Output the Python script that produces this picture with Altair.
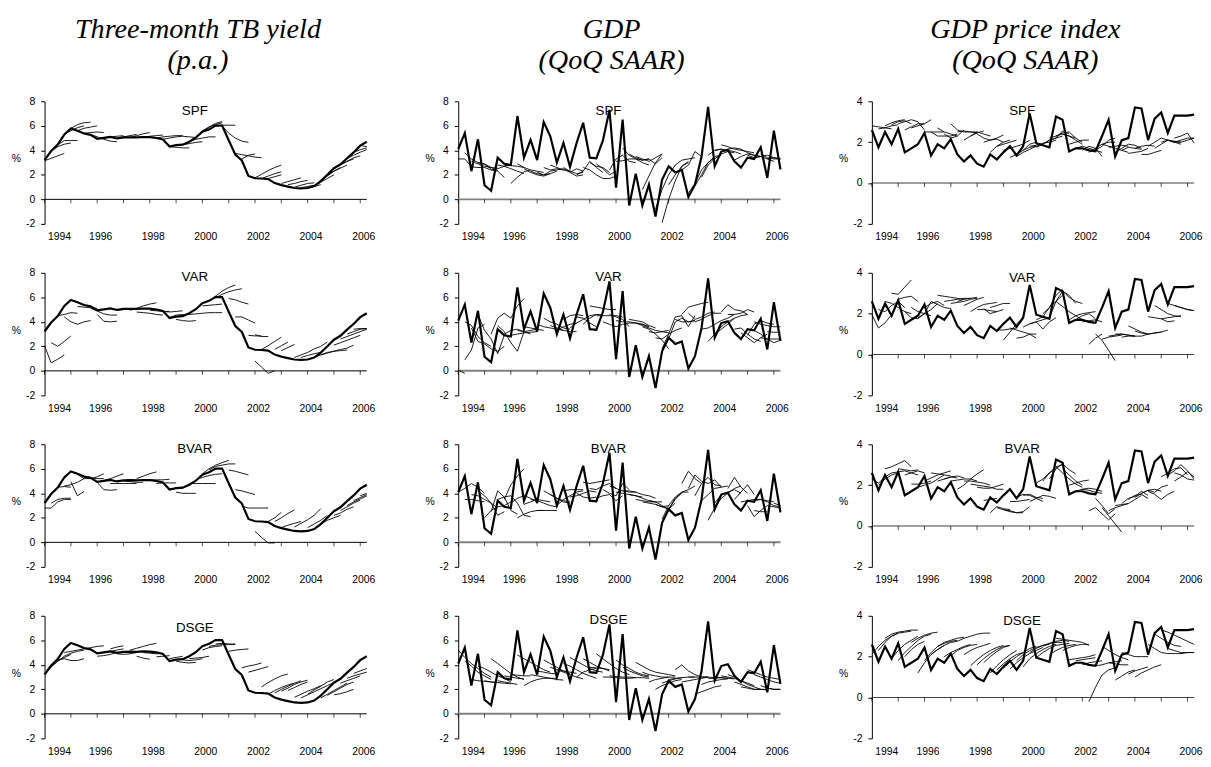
import altair as alt
import pandas as pd

QUARTERS = [1994 + i / 4 for i in range(50)]
YEARS = list(range(1994, 2007))
LABEL_YEARS = list(range(1994, 2007, 2))

ACT_TB = [3.21, 3.94, 4.47, 5.29, 5.78, 5.60, 5.37, 5.26, 4.93, 5.02, 5.10, 4.97,
          5.06, 5.07, 5.06, 5.09, 5.08, 5.01, 4.88, 4.31, 4.42, 4.46, 4.70, 5.03,
          5.52, 5.71, 6.02, 6.02, 4.82, 3.66, 3.17, 1.91, 1.72, 1.70, 1.65, 1.33,
          1.16, 1.04, 0.93, 0.90, 0.93, 1.08, 1.49, 2.01, 2.54, 2.86, 3.36, 3.83,
          4.38, 4.70]
ACT_GDP = [4.1, 5.4, 2.3, 4.9, 1.15, 0.7, 3.4, 2.9, 2.8, 6.8, 3.4, 4.85,
           3.2, 6.3, 5.15, 3.0, 4.6, 2.65, 4.6, 6.25, 3.4, 3.35, 4.8, 7.3,
           0.95, 6.5, -0.5, 2.1, -0.5, 1.2, -1.4, 1.6, 2.7, 2.2, 2.4, 0.2,
           1.2, 3.5, 7.55, 2.7, 3.9, 4.05, 3.1, 2.6, 3.4, 3.3, 4.25, 1.75,
           5.6, 2.45]
ACT_PI = [2.6, 1.75, 2.5, 1.9, 2.65, 1.5, 1.7, 1.9, 2.45, 1.35,
          1.9, 1.7, 2.15, 1.4, 1.05, 1.35, 0.95, 0.8, 1.4, 1.15,
          1.5, 1.8, 1.35, 1.8, 3.4, 1.95, 1.85, 1.75, 3.25, 3.1,
          1.55, 1.7, 1.7, 1.6, 1.55, 2.3, 3.1, 1.3, 2.1, 2.2,
          3.7, 3.65, 2.1, 3.15, 3.45, 2.45, 3.3, 3.3, 3.3, 3.35]

# forecast paths: (start quarter index, values)
TB_SPF = [
    (0, [3.15, 3.35, 3.55, 3.75]), (1, [3.95, 4.3, 4.5, 4.6]), (2, [4.45, 4.8, 4.8, 4.8]),
    (3, [5.3, 5.6, 5.85, 6.0]), (4, [5.8, 6.1, 6.25, 6.3]), (5, [5.6, 5.8, 5.9, 6.0]),
    (6, [5.4, 5.45, 5.5, 5.45]), (7, [5.3, 5.1, 4.9, 4.75, 4.7]), (9, [5.0, 5.1, 5.15, 5.2]),
    (11, [5.0, 5.1, 5.2, 5.3]), (13, [5.05, 5.2, 5.35, 5.45]), (15, [5.05, 5.15, 5.2, 5.25]),
    (17, [5.0, 5.1, 5.15, 5.2, 5.2]), (18, [4.9, 5.0, 5.1, 5.15, 5.1, 5.05]),
    (19, [4.3, 4.25, 4.2, 4.2]), (21, [4.45, 4.55, 4.65, 4.7]), (22, [4.7, 4.9, 5.0, 5.1, 5.1]),
    (23, [5.1, 5.6, 5.9, 6.1, 6.25]), (24, [5.5, 5.9, 6.2, 6.35]), (25, [5.7, 6.0, 6.05, 6.05, 6.05]),
    (27, [6.0, 5.4, 5.0, 4.75, 4.65]), (29, [3.75, 3.65, 3.55, 3.45, 3.4]), (30, [3.3, 3.6, 3.7]),
    (32, [1.75, 2.05, 2.35, 2.6, 2.8]), (33, [1.7, 1.9, 2.1, 2.25]), (34, [1.7, 1.85, 2.0]),
    (36, [1.3, 1.45, 1.6, 1.75]), (37, [1.2, 1.3, 1.45, 1.55]), (38, [1.0, 1.15, 1.3, 1.35]),
    (39, [0.95, 1.05, 1.15]), (40, [0.95, 1.05, 1.2]), (41, [1.1, 1.4, 1.7, 2.0]),
    (42, [1.5, 1.9, 2.3, 2.6]), (43, [2.0, 2.3, 2.55, 2.8]), (44, [2.5, 2.8, 3.1, 3.3]),
    (45, [2.85, 3.1, 3.4, 3.55]), (46, [3.35, 3.6, 3.85, 4.05]), (47, [3.85, 4.05, 4.2]),
    (48, [4.4, 4.3]),
]
TB_VAR = [
    (0, [2.05, 0.65, 0.95, 1.3]), (1, [2.3, 2.0, 2.4, 2.85]), (2, [4.5, 4.6, 4.75, 4.7]),
    (3, [4.4, 4.0, 3.8, 4.0, 4.1]), (5, [5.25, 5.2, 5.15, 5.1]), (7, [5.1, 4.9, 4.65, 4.55, 4.55]),
    (8, [4.6, 4.05, 4.0, 4.05]), (11, [4.95, 5.0, 5.05, 5.1]), (13, [4.95, 5.1, 5.3, 5.45, 5.55]),
    (14, [4.8, 4.75, 4.7, 4.6, 4.55]), (16, [4.95, 4.9, 4.85, 4.85]), (18, [4.85, 4.8, 4.85, 4.9]),
    (19, [4.35, 4.55, 4.6, 4.6]), (20, [4.2, 4.1, 4.05, 4.1]),
    (22, [4.6, 4.65, 4.7, 4.75, 4.75, 4.75]), (24, [5.3, 5.35, 5.4, 5.45]),
    (25, [5.7, 6.1, 6.5, 6.8, 7.0]), (26, [5.95, 6.25, 6.45, 6.6, 6.7]),
    (28, [5.9, 5.8, 5.6, 5.45]), (29, [4.4, 4.4, 4.15, 3.9]), (31, [2.9, 2.85, 2.85]),
    (32, [0.8, 0.3, -0.2, 0.0]), (32, [2.95, 2.8, 2.8]), (33, [1.75, 2.05, 2.4, 2.75]),
    (35, [1.75, 2.05, 2.35]), (36, [1.65, 1.9, 2.15]), (38, [1.1, 1.3, 1.5, 1.8, 2.0, 2.35]),
    (39, [1.1, 1.25, 1.4, 1.5]), (40, [0.95, 1.1, 1.3, 1.5]),
    (42, [1.3, 1.45, 1.6, 1.75, 1.85, 2.1]), (43, [1.5, 1.6, 1.65, 1.7]),
    (44, [2.1, 2.3, 2.5, 2.7, 2.9]), (45, [2.6, 2.8, 3.0, 3.2, 3.4]),
    (46, [3.0, 3.2, 3.4, 3.45]), (47, [3.4, 3.45, 3.45]),
]
TB_BVAR = [
    (0, [2.8, 2.8, 3.3, 3.5, 3.5]), (1, [3.2, 3.5, 3.6, 3.6]), (2, [4.5, 4.55, 4.5]),
    (3, [4.6, 4.7, 4.9, 5.2]), (4, [4.95, 3.8, 4.15]), (5, [5.55, 5.2, 5.2, 5.35, 5.6]),
    (6, [5.3, 5.25, 5.2, 5.2]), (8, [4.9, 4.3, 4.25, 4.3]), (9, [5.05, 5.2, 5.4, 5.6]),
    (10, [4.8, 4.8, 4.8, 4.8, 4.8]), (12, [5.0, 4.95, 4.9, 4.9]), (14, [5.2, 5.4, 5.6, 5.75]),
    (16, [5.1, 5.1, 5.1, 5.15]), (17, [4.8, 4.85, 4.85, 4.85]), (19, [4.35, 4.4, 4.4]),
    (20, [4.1, 4.0, 4.0, 4.0]), (22, [4.8, 4.8, 4.8, 4.8, 4.8]),
    (23, [5.1, 5.3, 5.45, 5.55, 5.6]), (24, [5.6, 6.0, 6.3, 6.5, 6.7]),
    (25, [5.9, 6.2, 6.3, 6.4, 6.4]), (28, [5.9, 5.8, 5.65, 5.5]), (29, [4.3, 4.2, 4.05, 3.9]),
    (30, [2.95, 2.8, 2.8, 2.8, 2.8]), (32, [0.9, 0.4, -0.05, -0.05]), (34, [1.7, 2.0, 2.45]),
    (35, [1.7, 2.0, 2.35, 2.65]), (36, [1.2, 1.4, 1.55, 1.7]), (38, [1.25, 1.55, 1.85, 2.2, 2.75]),
    (40, [1.2, 1.5, 1.8, 2.2]), (42, [1.5, 1.8, 2.0, 2.2]), (44, [2.2, 2.4, 2.7, 2.9]),
    (45, [2.6, 2.9, 3.2, 3.45]), (46, [3.0, 3.3, 3.55, 3.8]), (47, [3.4, 3.65, 3.9]),
    (48, [3.8, 4.0]),
]
TB_DSGE = [
    (0, [3.3, 3.8, 4.3, 4.6, 4.85]), (1, [3.9, 4.3, 4.7, 4.95, 5.1, 5.2]),
    (2, [4.4, 4.5, 4.35, 4.35, 4.5]), (3, [5.0, 5.1, 5.2, 5.3, 5.4, 5.5, 5.55]),
    (8, [4.7, 4.75, 4.85, 5.0]), (9, [5.0, 5.1, 5.2, 5.3]), (10, [5.3, 5.45, 5.55]),
    (11, [4.9, 4.85, 4.9, 5.0]), (13, [5.2, 5.35, 5.5, 5.65, 5.75]), (14, [4.7, 4.55, 4.45]),
    (15, [5.0, 4.95, 4.9, 4.95]), (17, [4.65, 4.7, 4.75]), (19, [4.5, 4.6, 4.7]),
    (20, [4.3, 4.2, 4.15, 4.2]), (21, [4.4, 4.35, 4.4, 4.5]), (22, [4.5, 4.55, 4.6, 4.7]),
    (24, [5.2, 5.4, 5.5, 5.55]), (25, [5.5, 5.6, 5.65, 5.65, 5.65]), (26, [5.7, 5.75, 5.7, 5.7]),
    (28, [5.1, 5.2, 5.25, 5.3]), (30, [3.75, 3.9, 4.0, 4.15]), (31, [3.4, 3.55, 3.7, 3.85]),
    (33, [2.2, 2.55, 2.85, 3.1, 3.25]), (34, [1.6, 1.9, 2.15, 2.35, 2.5]),
    (35, [1.7, 2.0, 2.25, 2.5, 2.7]), (36, [1.85, 2.1, 2.4, 2.6, 2.75]),
    (37, [1.9, 2.15, 2.4, 2.6]), (38, [1.35, 1.6, 1.85, 2.05, 2.3]),
    (39, [1.3, 1.55, 1.8, 2.05, 2.3, 2.55]), (40, [1.6, 1.95, 2.25, 2.6, 2.8]),
    (42, [1.3, 1.6, 1.9, 2.2, 2.5]), (43, [1.5, 1.8, 2.1, 2.4, 2.6]),
    (44, [1.55, 1.65, 1.8, 2.0]), (45, [2.5, 2.7, 2.9, 3.1]), (46, [2.9, 3.1, 3.25, 3.4]),
    (47, [3.3, 3.5, 3.7]),
]
GDP_SPF = [
    (0, [3.3, 3.3, 2.65, 2.6, 2.6]), (1, [3.8, 3.3, 3.0, 2.85, 2.5]), (2, [3.1, 2.9, 2.7, 2.6, 2.55]),
    (3, [3.0, 2.9, 2.6, 2.35]), (4, [2.6, 2.4, 2.3, 1.8]), (5, [2.4, 2.5, 2.7, 2.8]),
    (6, [2.8, 2.7, 2.5, 2.3, 2.1]), (7, [2.8, 2.75, 2.7, 2.6]), (8, [1.3, 1.8, 2.25, 2.4]),
    (9, [2.9, 2.6, 2.4, 2.3, 2.2]), (10, [2.5, 2.2, 2.0, 1.9, 2.1]), (11, [2.3, 2.1, 2.0, 2.3, 2.4]),
    (12, [2.2, 2.0, 2.1, 2.3]), (13, [2.6, 2.4, 2.5, 2.4]), (14, [2.8, 2.6, 2.4, 2.3]),
    (15, [2.4, 2.5, 2.2, 1.9, 2.0]), (16, [2.6, 2.3, 2.1, 2.2]), (17, [2.2, 2.5, 2.3]),
    (18, [2.0, 2.3, 3.1, 2.6, 2.2]), (19, [2.6, 2.4, 2.0, 1.7, 1.7, 1.9]), (20, [3.0, 2.7, 2.6, 2.2]),
    (21, [2.9, 2.5, 2.0, 2.3]), (23, [2.4, 3.3, 3.6, 3.1, 3.0]), (24, [3.1, 3.15, 3.3, 3.3, 3.2, 3.3]),
    (25, [4.2, 3.6, 3.3, 3.0, 2.8]), (26, [3.7, 3.4, 3.2, 3.3, 2.9, 3.4]), (27, [3.5, 3.3, 3.1, 3.4, 3.7]),
    (28, [0.8, 1.9, 3.0, 3.7]), (30, [-0.8, 0.8, 2.0, 2.8]), (31, [-1.9, 0.0, 1.5, 2.7, 3.1]),
    (32, [1.2, 2.0, 2.7, 3.0]), (33, [2.8, 3.2, 3.3, 3.4]), (34, [2.4, 2.8, 3.9, 3.5]),
    (35, [0.5, 1.3, 2.4, 3.0, 3.4]), (36, [1.1, 2.0, 3.0, 3.5, 3.6]), (37, [1.8, 2.8, 3.3, 3.7, 3.9]),
    (38, [3.6, 4.0, 4.1, 3.9, 3.8]), (39, [4.0, 4.1, 4.0, 3.9, 3.7]),
    (40, [4.45, 4.3, 4.1, 4.0, 3.9, 3.8]), (41, [4.1, 4.2, 4.1, 3.8, 3.6, 3.5]),
    (42, [3.2, 3.5, 3.7, 3.6, 3.5]), (44, [3.6, 3.4, 3.5, 3.3, 3.1]), (45, [3.4, 3.5, 3.6, 3.4, 3.3]),
    (46, [3.7, 3.4, 3.3, 3.3]), (47, [3.3, 3.4, 3.3]),
]
GDP_VAR = [
    (0, [0.05, -0.2]), (1, [0.9, 1.7, 3.5, 3.8]), (1, [4.0, 3.7, 2.8, 2.3, 2.0]),
    (2, [3.5, 2.4, 2.2, 1.8, 1.6, 2.0]), (3, [4.6, 3.3, 2.6, 1.4, 2.9]),
    (5, [3.0, 4.3, 4.7, 4.3, 5.3, 5.9]), (6, [3.7, 3.2, 2.3, 1.6, 3.2]), (7, [3.0, 3.3, 3.4, 3.2, 3.0]),
    (8, [2.9, 3.0, 3.1, 3.15, 3.2]), (9, [3.3, 3.2, 3.3, 3.4]), (10, [3.6, 3.5, 3.4, 3.3]),
    (12, [3.8, 3.6, 3.5, 3.4, 3.3]), (13, [4.3, 4.0, 3.8, 3.5, 3.4]), (14, [3.7, 3.5, 3.3, 3.2, 3.2]),
    (15, [3.3, 3.6, 3.8, 3.9]), (16, [4.2, 4.5, 4.6, 4.5]), (17, [3.5, 3.9, 4.2, 4.5, 4.6]),
    (18, [4.4, 4.3, 3.9, 3.6]), (19, [3.8, 4.3, 4.6, 4.6]), (20, [5.3, 5.2, 5.1, 5.0, 5.0]),
    (21, [4.5, 4.5, 4.5, 4.5, 4.4]), (22, [4.0, 3.8, 3.6, 3.8]), (23, [4.6, 4.4, 4.2, 3.6]),
    (24, [4.1, 4.0, 4.0, 3.9, 3.8, 3.6]), (25, [3.8, 3.9, 3.9, 3.8, 3.6]),
    (26, [4.2, 4.1, 4.0, 3.7, 3.5]), (27, [3.9, 3.7, 3.5, 3.3, 3.2, 3.1]),
    (28, [3.6, 3.4, 3.0, 2.5, 1.8]), (29, [3.2, 3.1, 3.2, 3.3]), (30, [2.7, 2.6, 3.0, 3.3, 3.5]),
    (31, [1.8, 3.0, 4.4, 4.5, 3.6, 4.5]), (32, [2.6, 4.0, 4.3, 4.0, 4.1]), (33, [4.2, 4.0, 4.0, 4.1]),
    (34, [4.6, 5.2, 5.35, 5.5, 5.6]), (35, [4.7, 4.2, 4.4, 4.7, 4.8]), (36, [4.0, 4.2, 4.5, 4.7, 4.7]),
    (37, [3.4, 3.5, 3.8, 4.1, 4.3, 4.6]), (38, [2.4, 3.0, 3.6, 4.0, 4.3]),
    (39, [3.0, 3.4, 3.8, 4.3, 4.5, 4.6]), (40, [4.8, 5.4, 5.0, 4.9, 4.6]),
    (41, [4.6, 4.6, 4.7, 5.0, 4.8]), (42, [3.4, 3.5, 3.0, 2.6, 2.4]), (43, [3.1, 2.7, 2.3, 2.7, 3.0]),
    (44, [2.9, 3.8, 4.1, 3.9, 3.8]), (45, [4.0, 3.8, 3.7, 3.6, 3.6]), (45, [3.3, 3.0, 2.6, 2.3, 2.5]),
    (46, [2.7, 2.6, 2.6, 2.6]), (47, [3.2, 3.15, 3.15]),
]
GDP_BVAR = [
    (0, [4.1, 4.4, 4.8, 4.5, 4.0]), (1, [3.5, 3.5, 3.4, 3.3]), (2, [3.9, 3.8, 3.5, 3.2, 2.8]),
    (3, [4.2, 3.8, 3.2, 2.2, 2.5]), (4, [2.0, 2.6, 2.9, 3.0, 3.3]), (5, [2.5, 4.2, 3.7, 2.6, 2.3]),
    (6, [3.5, 3.7, 3.8, 3.2, 2.2, 2.1]), (7, [3.5, 4.7, 5.4, 6.0]), (8, [3.2, 3.6, 3.8, 3.6, 3.3]),
    (9, [2.0, 2.3, 2.5, 2.6, 2.6]), (10, [3.1, 3.3, 3.5, 3.4, 3.3]), (11, [3.5, 3.4, 3.2, 3.0, 2.9]),
    (12, [2.6, 2.6, 2.6, 2.6]), (13, [4.2, 3.9, 3.6, 3.4, 3.3]), (14, [3.9, 3.6, 3.3, 3.2]),
    (15, [3.0, 3.5, 3.8, 4.1, 4.2]), (16, [4.2, 4.3, 4.3, 4.3]), (17, [3.7, 3.8, 4.0, 4.2, 4.1]),
    (18, [4.0, 3.7, 3.6, 3.7]), (19, [4.9, 4.8, 4.9, 5.0, 5.1]), (20, [4.4, 4.3, 4.6, 4.8, 4.4]),
    (21, [3.6, 3.8, 3.9, 3.4, 3.8]), (22, [4.3, 4.0, 3.8, 4.8, 4.3]), (23, [4.6, 4.4, 4.2, 4.1, 4.1]),
    (24, [4.1, 4.0, 3.9, 3.8, 3.7]), (25, [4.2, 4.2, 4.1, 3.9, 3.8, 3.6]),
    (26, [3.9, 3.8, 3.6, 3.4, 3.3]), (27, [3.5, 3.4, 3.3, 3.3, 3.3]), (28, [3.3, 3.2, 3.1, 2.9, 3.0]),
    (29, [3.4, 3.3, 3.0, 2.7, 3.2]), (30, [3.1, 2.9, 2.7, 3.6, 4.0]), (31, [1.9, 3.0, 3.7, 4.1, 4.1]),
    (32, [2.7, 3.5, 4.1, 4.3, 4.6]), (34, [4.8, 5.8, 5.2, 4.8]), (35, [4.4, 5.5, 5.0, 4.8, 5.1, 4.5]),
    (36, [3.8, 4.8, 5.3, 4.7, 4.6]), (37, [3.4, 3.9, 4.4, 4.5, 4.6]),
    (38, [1.8, 2.8, 3.6, 4.0, 4.4, 4.6]), (39, [3.2, 3.9, 4.1, 4.3, 4.0]), (41, [4.4, 5.3, 4.5, 4.0]),
    (42, [3.5, 4.1, 4.7, 3.9]), (43, [3.3, 3.4, 3.5, 3.5, 3.4, 3.3]), (44, [3.0, 2.1, 2.6, 3.0]),
    (45, [2.6, 2.5, 2.5]), (45, [3.4, 3.5, 3.3, 3.0, 2.9]), (47, [3.0, 2.9, 2.8]), (48, [3.2, 3.0]),
]
GDP_DSGE = [
    (0, [5.2, 4.6, 4.1, 3.7, 3.3, 3.0]), (1, [4.3, 3.9, 3.4, 3.1, 2.8]), (2, [2.8, 2.7, 2.65, 2.6, 2.55]),
    (3, [3.9, 3.7, 3.4, 3.1, 2.9, 2.6]), (4, [2.7, 2.6, 2.55, 2.5, 2.45]),
    (5, [4.5, 4.1, 3.7, 3.3, 3.0, 2.8]), (6, [2.7, 2.6, 2.5, 2.4]), (7, [3.1, 3.0, 2.9, 2.85]),
    (8, [3.2, 3.15, 3.1, 3.1]), (9, [4.8, 4.5, 4.2, 3.9, 3.6, 3.4]), (10, [2.3, 2.6, 2.8, 2.9, 2.9, 2.9]),
    (11, [3.2, 3.1, 3.0, 2.9, 2.8, 2.75]), (12, [3.5, 3.4, 3.3, 3.25]), (13, [4.4, 4.1, 3.8, 3.5, 3.3]),
    (14, [3.8, 3.6, 3.4, 3.2, 3.0, 2.85]), (15, [3.6, 3.5, 3.4, 3.3]),
    (16, [4.1, 3.9, 3.6, 3.3, 3.1, 2.9]), (17, [4.6, 4.3, 4.0, 3.7, 3.5, 3.4]), (18, [3.0, 3.4, 3.6, 3.7]),
    (19, [4.5, 4.2, 3.9, 3.7, 3.5]), (20, [3.8, 3.75, 3.7, 3.6]), (21, [4.9, 4.5, 4.1, 3.7, 3.4, 3.2]),
    (22, [3.0, 3.0, 2.95, 2.9, 2.9]), (23, [3.1, 3.05, 3.0, 3.0, 2.95]),
    (24, [4.4, 4.0, 3.7, 3.4, 3.2, 3.1]), (25, [3.8, 3.5, 3.3, 3.1, 3.0]), (26, [2.9, 2.95, 2.95, 2.9]),
    (27, [4.2, 3.9, 3.6, 3.4, 3.3, 3.2, 3.1]), (28, [3.4, 3.2, 3.1, 3.0, 3.0]), (29, [2.6, 2.8, 2.9, 3.0, 3.0]),
    (30, [2.0, 2.3, 2.5, 2.7, 2.8]), (31, [2.5, 2.7, 2.85, 2.95]), (32, [2.8, 2.9, 2.95, 3.0, 3.0]),
    (33, [3.6, 4.0, 3.5, 3.2, 3.0, 3.0]), (34, [2.6, 2.7, 2.8, 2.9, 3.0]), (35, [3.0, 3.0, 3.0, 3.0, 2.95]),
    (36, [1.6, 1.8, 2.0, 2.2, 2.3]), (37, [2.4, 2.6, 2.7, 2.8, 2.85]), (38, [2.9, 2.9, 2.95, 2.9]),
    (39, [3.0, 2.95, 2.9, 2.85]), (40, [3.1, 3.0, 2.9, 2.7, 2.5, 2.3]), (41, [3.2, 3.0, 2.7, 2.4, 2.2, 2.0]),
    (42, [2.6, 2.4, 2.2, 2.0, 2.0, 2.0]), (43, [2.2, 2.1, 2.0, 2.0, 1.95]),
    (44, [3.6, 3.4, 3.2, 3.0, 2.9, 2.8]), (45, [3.2, 3.0, 2.8, 2.6, 2.5]), (46, [2.3, 2.1, 2.0, 2.0]),
    (47, [2.1, 2.0, 2.0]),
]
PI_SPF = [
    (0, [2.8, 2.75, 2.7, 2.65]), (1, [2.65, 2.7, 2.8, 2.85]), (2, [2.8, 2.95, 3.05, 3.1]),
    (3, [2.85, 3.0, 3.05, 2.9]), (4, [2.9, 3.0, 3.1, 3.0, 2.6]), (5, [2.6, 2.75, 2.9, 2.9]),
    (6, [2.7, 2.8, 2.9, 3.1]), (8, [2.5, 2.5, 2.5, 2.5]), (9, [2.5, 2.3, 2.3, 2.3, 2.4]),
    (10, [2.7, 2.5, 2.4, 2.3]), (11, [2.4, 2.2, 2.3, 2.6]), (12, [2.9, 2.6, 2.5, 2.5, 2.5]),
    (13, [2.5, 2.55, 2.5, 2.45]), (14, [2.1, 2.3, 2.45, 2.55]), (15, [2.3, 2.5, 2.4, 2.3]),
    (16, [2.4, 2.2, 2.1, 2.15, 2.0]), (17, [2.0, 2.1, 2.2, 2.35]), (18, [1.5, 1.8, 2.0, 2.1]),
    (19, [1.8, 1.9, 2.0, 2.1]), (20, [1.6, 1.7, 1.8, 1.9, 2.1]), (21, [1.25, 1.4, 1.6, 1.9, 2.0]),
    (22, [1.3, 1.5, 1.65, 1.8]), (23, [1.6, 1.75, 1.8, 1.9]), (24, [1.8, 1.85, 1.95, 2.0, 2.1]),
    (25, [1.75, 1.9, 2.1, 2.2, 2.3]), (26, [1.9, 2.1, 2.2, 2.55, 2.4]), (27, [2.2, 2.3, 2.45, 2.5, 2.2]),
    (28, [2.3, 2.4, 2.3, 2.2, 2.0]), (29, [2.4, 2.3, 2.1, 1.9]), (30, [1.9, 2.0, 2.1, 2.1]),
    (31, [1.7, 1.8, 1.7, 1.6, 1.5]), (32, [1.6, 1.8, 1.7, 1.3]), (33, [1.5, 1.7, 1.9, 2.0, 2.0]),
    (34, [1.6, 1.8, 2.1, 2.2]), (35, [1.9, 1.8, 1.7, 1.6, 1.5]), (36, [1.75, 1.8, 1.85, 1.8]),
    (37, [1.5, 1.7, 1.9, 1.85, 1.7]), (38, [1.6, 1.75, 1.7, 1.65]), (39, [1.45, 1.5, 1.55, 1.7]),
    (40, [1.7, 1.8, 1.85, 1.8]), (41, [1.4, 1.4, 1.5, 1.6]), (42, [1.8, 2.0, 2.2, 2.1, 2.0]),
    (43, [1.7, 1.9, 2.1, 2.05, 2.0]), (44, [2.0, 2.1, 2.0, 1.9]), (45, [2.1, 2.0, 2.0, 2.1, 2.2]),
    (46, [2.0, 2.1, 2.2, 2.2]), (46, [2.2, 2.3, 2.45, 1.95]),
]
PI_VAR = [
    (0, [1.95, 1.3, 1.55, 1.95]), (1, [2.2, 2.1, 2.4, 2.6, 2.3]), (2, [2.6, 2.5, 2.3, 2.1, 2.0]),
    (3, [3.0, 2.95, 3.3, 3.65]), (4, [2.7, 2.8, 2.85, 2.6]), (5, [2.1, 1.8, 1.75, 2.0, 2.6]),
    (6, [2.3, 2.1, 2.0, 1.9]), (7, [1.8, 2.0, 2.2, 2.5]), (8, [2.3, 2.5, 2.6, 2.4]),
    (9, [2.6, 2.45, 2.3, 2.25]), (10, [2.9, 2.85, 2.8, 2.75, 2.7]), (11, [2.6, 2.65, 2.7, 2.75, 2.75]),
    (12, [2.5, 2.55, 2.6, 2.7, 2.75]), (13, [2.6, 2.7, 2.75, 2.8]), (14, [2.4, 2.55, 2.7, 2.8]),
    (15, [2.1, 2.3, 2.45, 2.5, 2.55]), (16, [2.2, 2.2, 2.15, 2.1]), (17, [2.25, 2.0, 2.1, 2.2]),
    (18, [2.3, 2.4, 2.5, 2.5]), (19, [1.2, 1.2, 1.25, 1.3]), (20, [0.7, 1.1, 1.5, 1.8]),
    (21, [1.3, 1.2, 1.1, 1.0, 0.8]), (22, [0.8, 0.85, 1.0, 1.0]), (23, [1.35, 1.5, 1.6, 1.7, 1.8]),
    (24, [1.5, 1.6, 1.25, 1.6, 1.8]), (25, [1.7, 1.85, 2.3, 2.6, 2.9]), (26, [2.0, 2.3, 2.9, 3.2]),
    (27, [1.8, 2.6, 3.1, 2.9, 2.5]), (28, [2.6, 2.35, 2.1, 1.9, 1.7]), (29, [3.1, 2.8, 2.6, 2.5]),
    (30, [1.7, 1.9, 2.0, 2.05, 2.1]), (31, [1.7, 1.9, 2.0, 1.75]), (32, [1.6, 1.65, 1.7, 1.6]),
    (33, [0.5, 0.8, 1.0]), (34, [1.0, 0.7, 0.2, -0.3]), (35, [0.75, 0.85, 0.9, 0.95]),
    (36, [0.9, 0.95, 1.0, 0.95, 0.9]), (37, [1.0, 1.0, 0.95, 0.9]), (38, [0.85, 0.9, 0.9, 0.9]),
    (39, [1.4, 1.25, 1.1, 1.0]), (40, [1.15, 1.05, 1.0, 1.05, 1.1]), (41, [0.9, 1.0, 1.05, 1.1, 1.2]),
    (42, [1.85, 1.8, 1.75, 1.6, 1.65]), (43, [2.4, 2.2, 2.0, 1.9, 1.85]), (44, [1.75, 1.8, 1.85, 1.9]),
    (45, [2.5, 2.4, 2.3, 2.2, 2.15]), (46, [2.4, 2.3, 2.2, 2.15]),
]
PI_BVAR = [
    (0, [2.3, 2.1, 2.4, 2.6]), (1, [2.0, 2.3, 2.5, 2.6]), (2, [2.8, 2.9, 3.05, 3.2, 2.9]),
    (3, [2.6, 2.65, 2.7, 2.6, 2.5]), (4, [2.8, 2.75, 2.7, 2.75]), (5, [2.5, 2.6, 2.7, 2.6]),
    (6, [2.05, 2.05, 2.1, 2.2]), (7, [1.9, 2.0, 2.1, 2.3, 2.5]), (8, [2.2, 2.35, 2.5, 2.6, 2.7]),
    (9, [2.6, 2.55, 2.5, 2.45]), (10, [2.2, 2.3, 2.4, 2.35]), (11, [2.3, 2.4, 2.45, 2.35]),
    (12, [2.2, 2.25, 2.3, 2.3, 2.2]), (13, [1.8, 2.0, 2.3, 2.55, 2.75]), (14, [2.2, 2.2, 2.15, 2.1, 2.0]),
    (15, [2.05, 2.0, 1.95, 1.9, 1.8, 1.8]), (16, [1.9, 1.85, 1.85, 1.95, 2.05]), (17, [1.25, 1.3, 1.35]),
    (18, [0.65, 0.95, 0.85, 0.8]), (19, [0.9, 0.8, 0.7, 0.65, 0.65]), (20, [0.8, 0.75, 0.65, 0.7, 0.95]),
    (21, [1.2, 1.2, 1.25, 1.3]), (22, [1.4, 1.55, 1.5, 1.35, 1.2]), (23, [1.5, 1.55, 1.4, 1.35]),
    (24, [1.2, 1.35, 1.5, 1.45, 1.35]), (25, [2.1, 2.3, 2.6, 2.8]), (26, [2.2, 2.6, 2.9, 3.0]),
    (27, [2.3, 2.8, 3.05, 2.75, 2.55]), (28, [2.9, 2.6, 2.3, 2.05, 1.9]), (29, [2.8, 2.5, 2.2, 2.0]),
    (30, [2.0, 2.1, 2.2, 2.25]), (31, [1.7, 1.8, 1.85, 1.8, 1.7]), (32, [1.8, 1.75, 1.65, 1.6]),
    (33, [0.75, 0.9, 0.6, 0.3, 0.6]), (34, [1.35, 1.0, 0.6, 0.85]), (35, [0.9, 0.5, 0.1, -0.3]),
    (36, [0.75, 0.9, 1.0, 1.1]), (37, [1.0, 1.05, 1.1, 1.3, 1.5]), (38, [1.1, 1.35, 1.45, 1.7, 1.5]),
    (39, [1.3, 1.5, 1.55, 1.35]), (40, [1.4, 1.6, 1.75, 1.8, 1.7]), (41, [1.6, 1.75, 1.65, 1.9, 2.0]),
    (42, [1.7, 1.55, 1.3, 1.55, 1.7]), (44, [2.4, 2.6, 2.8, 2.85, 2.5]), (45, [2.5, 2.7, 3.0, 2.7, 2.3]),
    (46, [2.6, 2.5, 2.3, 2.25]), (46, [2.2, 2.4, 2.65, 2.4]),
]
PI_DSGE = [
    (0, [2.1, 2.5, 2.8, 3.0, 3.15]), (1, [2.3, 2.7, 3.0, 3.15, 3.2, 3.25]),
    (2, [2.9, 3.1, 3.2, 3.25, 3.3, 3.3]), (3, [1.9, 2.3, 2.6, 2.8, 3.0]),
    (4, [1.8, 2.2, 2.5, 2.8, 3.0, 3.1]), (5, [2.0, 2.35, 2.6, 2.75]), (6, [2.7, 2.9, 3.05, 3.15, 3.2]),
    (7, [1.2, 1.7, 2.1, 2.35, 2.55]), (8, [1.8, 2.2, 2.5, 2.65, 2.75, 2.8]),
    (9, [2.1, 2.35, 2.55, 2.7, 2.75]), (10, [2.5, 2.7, 2.8, 2.9, 2.95]), (11, [2.0, 2.2, 2.35, 2.5, 2.6]),
    (12, [2.05, 2.3, 2.45, 2.55, 2.6]), (13, [2.75, 2.9, 3.0, 3.1, 3.15, 3.15]),
    (14, [2.1, 2.3, 2.45, 2.55, 2.65]), (15, [1.55, 1.85, 2.1, 2.3, 2.45, 2.55]),
    (16, [1.6, 1.9, 2.15, 2.35, 2.5, 2.55]), (17, [1.7, 2.0, 2.25, 2.45, 2.55]),
    (18, [1.2, 1.55, 1.85, 2.1, 2.3]), (19, [1.35, 1.65, 1.9, 2.1, 2.2]),
    (20, [1.45, 1.75, 2.0, 2.2, 2.4, 2.5]), (21, [1.4, 1.7, 1.95, 2.15, 2.3, 2.45]),
    (22, [1.8, 2.1, 2.3, 2.45, 2.55, 2.6]), (23, [1.5, 1.9, 2.15, 2.35, 2.5, 2.6]),
    (24, [2.2, 2.4, 2.55, 2.65, 2.7, 2.7]), (25, [1.95, 2.2, 2.4, 2.55, 2.6, 2.65]),
    (26, [2.5, 2.65, 2.75, 2.8, 2.75]), (27, [2.1, 2.3, 2.45, 2.55, 2.6]),
    (28, [2.9, 2.85, 2.8, 2.75, 2.7, 2.55]), (29, [2.3, 2.45, 2.55, 2.6, 2.6]),
    (30, [1.85, 1.9, 1.95, 2.0, 2.1]), (31, [1.8, 1.85, 1.9, 1.95]), (32, [1.6, 1.7, 1.75, 1.8]),
    (33, [-0.2, 0.5, 1.1, 1.35, 1.45]), (34, [1.55, 1.6, 1.7, 1.75, 1.8]),
    (35, [2.5, 2.3, 2.1, 1.95, 1.85]), (36, [1.7, 1.65, 1.6, 1.6]), (37, [0.85, 1.05, 1.25, 1.35]),
    (38, [2.2, 2.1, 2.0, 2.0, 2.0]), (39, [1.15, 1.3, 1.4, 1.5]), (40, [1.0, 1.2, 1.35, 1.5, 1.6]),
    (42, [2.6, 2.4, 2.2, 2.15, 2.15, 2.15, 2.2, 2.2]), (43, [3.1, 2.9, 2.7, 2.55, 2.5]),
    (44, [3.3, 3.2, 3.05, 2.9, 2.75, 2.6]), (45, [2.4, 2.3, 2.2, 2.2, 2.2]),
]

MODELS = ["SPF", "VAR", "BVAR", "DSGE"]
COLUMNS = [
    (["Three-month TB yield", "(p.a.)"], ACT_TB, [TB_SPF, TB_VAR, TB_BVAR, TB_DSGE],
     [-2, 8], [-2, 0, 2, 4, 6, 8], "#000000", 1.0),
    (["GDP", "(QoQ SAAR)"], ACT_GDP, [GDP_SPF, GDP_VAR, GDP_BVAR, GDP_DSGE],
     [-2, 8], [-2, 0, 2, 4, 6, 8], "#808080", 2.0),
    (["GDP price index", "(QoQ SAAR)"], ACT_PI, [PI_SPF, PI_VAR, PI_BVAR, PI_DSGE],
     [-2, 4], [-2, 0, 2, 4], "#404040", 1.2),
]
TITLE_Y = [[10, 4.5, 4.5, 12], [10, 4.5, 4.5, 4.5], [10, 5, 4.5, 5.5]]

SANS = "Liberation Sans"
W, H = 326, 124


def panel(actual, hairs, ydom, yvals, name, zc, zw, ty):
    rows = []
    for k, (s, vals) in enumerate(hairs):
        for j, v in enumerate(vals):
            rows.append({"t": QUARTERS[s + j], "v": v, "h": k})
    hdf = pd.DataFrame(rows)
    adf = pd.DataFrame({"t": QUARTERS, "v": actual})
    zdf = pd.DataFrame({"v": [0]})
    tdf = pd.DataFrame({"t": YEARS, "v": [0] * len(YEARS)})

    x = alt.X("t:Q", scale=alt.Scale(domain=[1994, 2006.25], nice=False, zero=False),
              axis=alt.Axis(values=LABEL_YEARS, labelExpr="'' + datum.value", domain=False,
                            ticks=False, grid=False, labelPadding=8, labelOffset=3,
                            labelFont=SANS, labelFontSize=10.5, labelColor="#000",
                            title=None))
    y = alt.Y("v:Q", scale=alt.Scale(domain=ydom, nice=False, zero=False),
              axis=alt.Axis(values=yvals, labelExpr="'' + datum.value", grid=False,
                            domainColor="#000", tickColor="#000", tickSize=4,
                            labelPadding=6, labelFont=SANS, labelFontSize=10.5,
                            labelColor="#000", title="%", titleAngle=0, titleX=-29,
                            titleY=58, titleAlign="center", titleBaseline="middle",
                            titleFont=SANS, titleFontSize=10.5, titleFontWeight="normal",
                            titleColor="#000"))
    zero = alt.Chart(zdf).mark_rule(color=zc, strokeWidth=zw).encode(y=y)
    ticks = alt.Chart(tdf).mark_tick(orient="vertical", size=4, thickness=1, yOffset=2,
                                     color="#000").encode(x=x, y=y)
    hl = alt.Chart(hdf).mark_line(color="#000", strokeWidth=0.9).encode(x=x, y=y, detail="h:N")
    al = alt.Chart(adf).mark_line(color="#000", strokeWidth=2.2).encode(x=x, y=y)
    ttl = alt.Chart(zdf).mark_text(text=name, font=SANS, fontSize=13.5, color="#000",
                                   baseline="middle", align="center").encode(
        x=alt.value(152), y=alt.value(ty))
    return alt.layer(zero, ticks, hl, al, ttl).properties(width=W, height=H)


cols = []
for ci, (ctitle, act, hl_list, ydom, yvals, zc, zw) in enumerate(COLUMNS):
    panels = [panel(act, hl_list[r], ydom, yvals, MODELS[r], zc, zw, TITLE_Y[ci][r])
              for r in range(4)]
    cols.append(alt.vconcat(*panels, spacing=25.5,
                            title=alt.TitleParams(ctitle, font="Liberation Serif",
                                                  fontStyle="italic", fontWeight="normal",
                                                  fontSize=28.5, lineHeight=32,
                                                  anchor="middle", dx=5, offset=22,
                                                  color="#000")))

chart = alt.hconcat(*cols, spacing=49.5).properties(
    padding={"left": 3, "top": 2, "right": 0, "bottom": 0}
).configure_view(strokeWidth=0)

chart.save("out.html", embed_options={"renderer": "svg", "actions": False})
